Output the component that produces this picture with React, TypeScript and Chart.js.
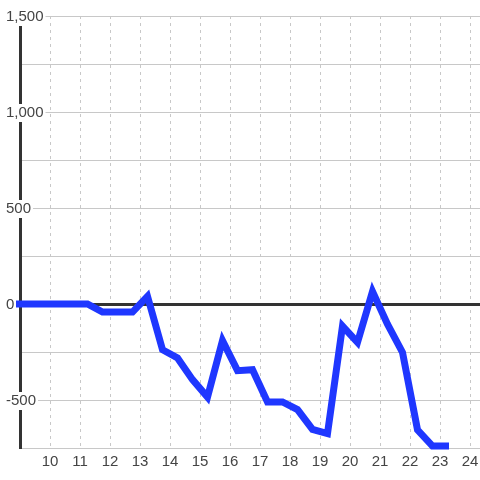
import React, { useEffect, useRef } from "react";
import { Chart, registerables } from "chart.js";

Chart.register(...registerables);

const hours = [
  8.75, 9.25, 9.75, 10.25, 10.75, 11.25, 11.75, 12.25, 12.75, 13.25, 13.75, 14.25, 14.75, 15.25, 15.75,
  16.25, 16.75, 17.25, 17.75, 18.25, 18.75, 19.25, 19.75, 20.25, 20.75, 21.25, 21.75, 22.25, 22.75, 23.3,
];
const values = [
  0, 0, 0, 0, 0, 0, -42, -42, -42, 40, -238, -281, -394, -485, -191,
  -347, -342, -510, -510, -550, -653, -675, -115, -200, 65, -105, -252, -655, -740, -740,
];
const xTicks = [10, 11, 12, 13, 14, 15, 16, 17, 18, 19, 20, 21, 22, 23, 24];
const yMin = -750;
const yMax = 1500;
const yStep = 250;

const FONT = "'Liberation Sans', Arial, sans-serif";

export default function App() {
  const ref = useRef<HTMLCanvasElement | null>(null);
  useEffect(() => {
    document.body.style.margin = "0";
    const ctx = ref.current!;
    const chart = new Chart(ctx, {
      type: "line",
      data: {
        datasets: [
          {
            data: hours.map((h, i) => ({ x: h, y: values[i] })),
            borderColor: "#1f37ff",
            borderWidth: 7,
            pointRadius: 0,
            pointHoverRadius: 0,
            tension: 0,
            fill: false,
            clip: 4,
          },
        ],
      },
      options: {
        animation: false,
        responsive: false,
        events: [],
        layout: { padding: { left: 5, top: 16, right: 0, bottom: 0 } },
        plugins: { legend: { display: false }, tooltip: { enabled: false } },
        scales: {
          x: {
            type: "linear",
            min: 9,
            max: 24.3333,
            afterBuildTicks: (s: any) => {
              s.ticks = xTicks.map((v) => ({ value: v }));
            },
            afterFit: (s: any) => {
              s.height = 32;
              s.paddingLeft = 0;
              s.paddingRight = 0;
            },
            border: { display: false, dash: [3, 4] },
            grid: { color: "#c8c8c8", lineWidth: 1, drawTicks: false },
            ticks: {
              autoSkip: false,
              maxRotation: 0,
              padding: 5,
              color: "#444",
              font: { size: 15, family: FONT },
              callback: (v: any) => String(v),
            },
          },
          y: {
            min: yMin,
            max: yMax,
            afterFit: (s: any) => {
              s.width = 15;
            },
            border: { display: true, color: "#333", width: 3 },
            grid: {
              drawTicks: false,
              color: (c: any) => (c.tick && c.tick.value === 0 ? "#333" : "#c8c8c8"),
              lineWidth: (c: any) => (c.tick && c.tick.value === 0 ? 3 : 1),
            },
            ticks: {
              stepSize: yStep,
              mirror: true,
              crossAlign: "near",
              padding: -14,
              labelOffset: 1,
              color: "#444",
              font: { size: 15, family: FONT },
              showLabelBackdrop: (c: any) => Number(c.tick && c.tick.value) % 500 === 0,
              backdropColor: "#ffffff",
              backdropPadding: { top: 0, bottom: 0, left: 2, right: 2 },
              callback: (v: any) => (Number(v) % 500 === 0 ? Number(v).toLocaleString("en-US") : ""),
            } as any,
          },
        },
      } as any,
    });
    return () => chart.destroy();
  }, []);
  return (
    <div style={{ position: "absolute", left: 0, top: 0, width: 480, height: 480 }}>
      <canvas ref={ref} width={480} height={480} />
    </div>
  );
}
